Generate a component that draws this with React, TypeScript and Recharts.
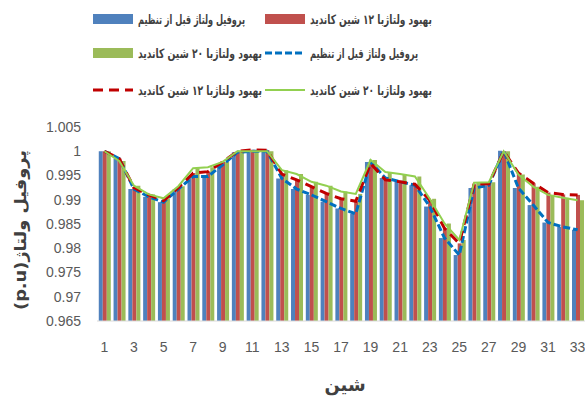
import { ComposedChart, Bar, Line, XAxis, YAxis, Legend } from 'recharts'

const buses = ['1', '2', '3', '4', '5', '6', '7', '8', '9', '10', '11', '12', '13', '14', '15', '16', '17',
  '18', '19', '20', '21', '22', '23', '24', '25', '26', '27', '28', '29', '30', '31', '32', '33']

// voltage profile (p.u) before tuning
const beforeTuning = [1.0, 0.9985, 0.9922, 0.9906, 0.9895, 0.9922, 0.9948, 0.9948, 0.9972, 0.9998, 1.0,
  1.0, 0.9944, 0.9922, 0.991, 0.9896, 0.9882, 0.9871, 0.9978, 0.9945, 0.9937, 0.993, 0.9886, 0.9821,
  0.9786, 0.9924, 0.993, 1.0001, 0.9924, 0.9889, 0.9853, 0.9844, 0.9838]

// improvement with 12 candidate buses
const improved12 = [1.0, 0.9985, 0.9925, 0.991, 0.9898, 0.9925, 0.9955, 0.9958, 0.9978, 1.0, 1.0003,
  1.0002, 0.9953, 0.9941, 0.9927, 0.9913, 0.9902, 0.9897, 0.9975, 0.9941, 0.9937, 0.9932, 0.9899, 0.9841,
  0.981, 0.9932, 0.9933, 1.0, 0.9955, 0.9934, 0.9915, 0.9911, 0.991]

// improvement with 20 candidate buses
const improved20 = [1.0, 0.998, 0.9929, 0.9911, 0.9903, 0.9928, 0.9965, 0.9967, 0.9978, 1.0, 1.0, 1.0,
  0.9961, 0.9953, 0.9937, 0.9929, 0.9917, 0.9912, 0.9982, 0.9957, 0.9953, 0.9948, 0.9902, 0.9851, 0.9817,
  0.9935, 0.9936, 1.0, 0.9952, 0.9927, 0.991, 0.9904, 0.9899]

const yTicks = [0.965, 0.97, 0.975, 0.98, 0.985, 0.99, 0.995, 1, 1.005]

const labelBefore = 'پروفیل ولتاژ قبل از تنظیم'
const label12 = 'بهبود ولتاژبا ۱۲ شین کاندید'
const label20 = 'بهبود ولتاژبا ۲۰ شین کاندید'

const data = buses.map((bus, i) => ({
  bus,
  b0: beforeTuning[i],
  b12: improved12[i],
  b20: improved20[i],
}))

const FA = '"DejaVu Sans", sans-serif'

const legendItems = [
  { kind: 'rect', color: '#4F81BD', label: labelBefore, x: 93, y: 19, w: 107 },
  { kind: 'rect', color: '#C0504D', label: label12, x: 265, y: 19, w: 122 },
  { kind: 'rect', color: '#9BBB59', label: label20, x: 93, y: 53, w: 124 },
  { kind: 'line', color: '#0070C0', dash: '7 3', label: labelBefore, x: 265, y: 53, w: 108 },
  { kind: 'line', color: '#C00000', dash: '10 6', label: label12, x: 93, y: 90, w: 124 },
  { kind: 'line', color: '#92D050', dash: undefined, label: label20, x: 265, y: 90, w: 122 },
]

const ChartLegend = () => (
  <svg width={585} height={127} style={{ display: 'block' }}>
    {legendItems.map((it, i) => (
      <g key={i}>
        {it.kind === 'rect' ? (
          <rect x={it.x} y={it.y - 5} width={40} height={10} fill={it.color} />
        ) : (
          <line x1={it.x} x2={it.x + 40} y1={it.y} y2={it.y} stroke={it.color}
            strokeWidth={it.dash ? 3 : 2} strokeDasharray={it.dash} />
        )}
        <text x={it.x + 45 + it.w / 2} y={it.y + 5} textAnchor="middle" direction="rtl"
          fontFamily={FA} fontSize={13} fontWeight="bold" fill="#404040"
          textLength={it.w} lengthAdjust="spacingAndGlyphs">
          {it.label}
        </text>
      </g>
    ))}
  </svg>
)

const App = () => {
  return (
    <div style={{ position: 'absolute', left: 0, top: 0 }}>
      <ComposedChart width={585} height={401} data={data}
        margin={{ top: 0, right: 0, bottom: 0, left: 0 }} barCategoryGap="12%" barGap={0}>
        <Legend verticalAlign="top" align="left" content={() => <ChartLegend />} />
        <XAxis dataKey="bus" interval={1} height={80} tickLine={false} tickMargin={15}
          axisLine={{ stroke: '#D9D9D9' }}
          tick={{ fontSize: 14, fill: '#595959', fontFamily: '"Liberation Sans", sans-serif' }}
          label={{
            content: (p: any) => (
              <text x={p.viewBox.x + p.viewBox.width / 2 + 4} y={p.viewBox.y + 70} textAnchor="middle"
                fontFamily={FA} fontSize={18} fontWeight="bold" fill="#404040">
                شین
              </text>
            ),
          }} />
        <YAxis type="number" domain={[0.965, 1.005]} ticks={yTicks} width={97} axisLine={false}
          tickLine={false} tickSize={6} tickMargin={10} allowDataOverflow
          tick={{ fontSize: 14, fill: '#595959', fontFamily: '"Liberation Sans", sans-serif' }}
          label={{
            content: (p: any) => {
              const cx = p.viewBox.x + 20
              const cy = p.viewBox.y + p.viewBox.height / 2 + 6
              return (
                <text x={cx} y={cy} transform={`rotate(-90 ${cx} ${cy})`} textAnchor="middle"
                  direction="rtl" fontFamily={FA} fontSize={16} fontWeight="bold" fill="#404040"
                  textLength={160} lengthAdjust="spacingAndGlyphs" dominantBaseline="central">
                  پروفیل ولتاژ(p.u)
                </text>
              )
            },
          }} />
        <Bar dataKey="b0" name={labelBefore} fill="#4F81BD" isAnimationActive={false} />
        <Bar dataKey="b12" name={label12} fill="#C0504D" isAnimationActive={false} />
        <Bar dataKey="b20" name={label20} fill="#9BBB59" isAnimationActive={false} />
        <Line dataKey="b0" name={labelBefore} stroke="#0070C0" strokeWidth={3} strokeDasharray="7 3"
          dot={false} activeDot={false} isAnimationActive={false} />
        <Line dataKey="b12" name={label12} stroke="#C00000" strokeWidth={3} strokeDasharray="10 6"
          dot={false} activeDot={false} isAnimationActive={false} />
        <Line dataKey="b20" name={label20} stroke="#92D050" strokeWidth={2}
          dot={false} activeDot={false} isAnimationActive={false} />
      </ComposedChart>
    </div>
  )
}

export default App
